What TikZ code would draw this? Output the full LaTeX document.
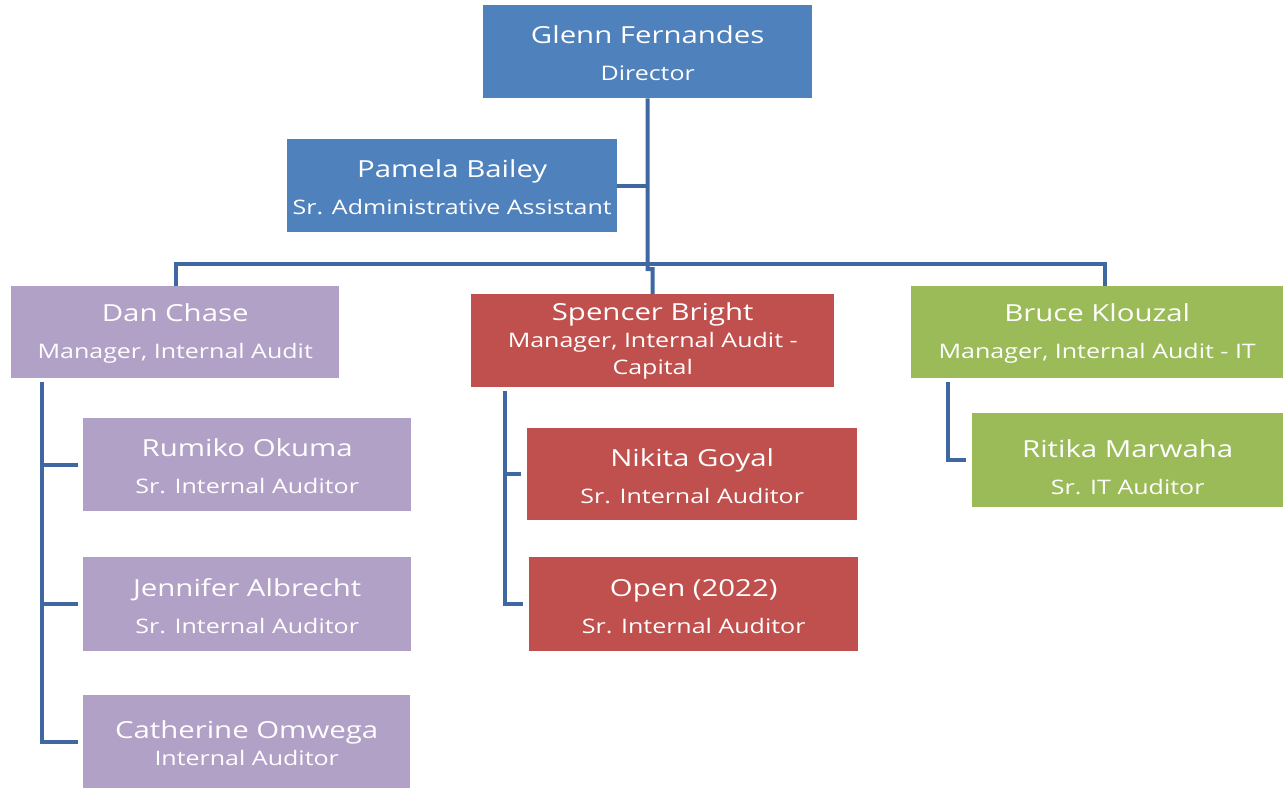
\documentclass[tikz,border=0pt]{standalone}
\usepackage{fontspec}
\setmainfont{Open Sans}[FakeStretch=1.25]
\definecolor{cblue}{HTML}{4F81BD}
\definecolor{cpurple}{HTML}{B2A1C7}
\definecolor{cred}{HTML}{C0504D}
\definecolor{cgreen}{HTML}{9BBB59}
\definecolor{linec}{HTML}{3F68A2}
\newcommand\pname[1]{{\fontsize{23.5}{37}\selectfont #1}}
\newcommand\ptitle[1]{{\fontsize{20}{37}\selectfont #1}}
\begin{document}
\begin{tikzpicture}[x=1pt,y=-1pt,
  box/.style={rectangle, inner sep=0pt, text=white, align=center, anchor=north west,
    minimum width=329pt, minimum height=93pt, font=\fontsize{20}{37}\selectfont},
  conn/.style={draw=linec, line width=4pt},
  tick/.style={conn, shorten >=5pt}]
\useasboundingbox (0,0) rectangle (1283,788);
% boxes
\node[box, fill=cblue] (glenn) at (483,5) {\rule{0pt}{21pt}\pname{Glenn Fernandes}\\\ptitle{Director}};
\node[box, fill=cblue, minimum width=330pt] (pamela) at (287,139) {\rule{0pt}{21pt}\pname{Pamela Bailey}\\\ptitle{Sr. Administrative Assistant}};
\node[box, fill=cpurple, minimum width=328pt, minimum height=92pt] (dan) at (11,286) {\rule{0pt}{21pt}\pname{Dan Chase}\\\ptitle{Manager, Internal Audit}};
\node[box, fill=cred, minimum width=363pt] (spencer) at (471,294) {\pname{Spencer Bright}\\[-10pt]\ptitle{Manager, Internal Audit -}\\[-10pt]\ptitle{Capital}};
\node[box, fill=cgreen, minimum width=372pt, minimum height=92pt] (bruce) at (911,286) {\rule{0pt}{21pt}\pname{Bruce Klouzal}\\\ptitle{Manager, Internal Audit - IT}};
\node[box, fill=cpurple, minimum width=328pt] (rumiko) at (83,418) {\rule{0pt}{21pt}\pname{Rumiko Okuma}\\\ptitle{Sr. Internal Auditor}};
\node[box, fill=cpurple, minimum width=328pt, minimum height=94pt] (jennifer) at (83,557) {\rule{0pt}{21pt}\pname{Jennifer Albrecht}\\\ptitle{Sr. Internal Auditor}};
\node[box, fill=cpurple, minimum width=327pt] (cath) at (83,695) {\rule{0pt}{21pt}\pname{Catherine Omwega}\\[-10pt]\ptitle{Internal Auditor}};
\node[box, fill=cred, minimum width=330pt, minimum height=92pt] (nikita) at (527,428) {\rule{0pt}{21pt}\pname{Nikita Goyal}\\\ptitle{Sr. Internal Auditor}};
\node[box, fill=cred, minimum width=329pt, minimum height=94pt] (open) at (529,557) {\rule{0pt}{21pt}\pname{Open (2022)}\\\ptitle{Sr. Internal Auditor}};
\node[box, fill=cgreen, minimum width=311pt, minimum height=94pt] (ritika) at (972,413) {\rule{0pt}{31pt}\pname{Ritika Marwaha}\\\ptitle{Sr. IT Auditor}};
% coordinates
\coordinate (bl) at (176,264);
\coordinate (br) at (1105,264);
\coordinate (jog) at (647.5,269);
\coordinate (dx) at (42,382);
\coordinate (sx) at (505,391);
\coordinate (kx) at (948,382);
% connectors
\draw[conn] (glenn.south) -- (jog) -- (jog -| spencer.north) -- (spencer.north);
\draw[conn] (pamela.east) -- (pamela.east -| glenn.south);
\draw[conn] (dan.north -| bl) -- (bl) -- (br) -- (bruce.north -| br);
\draw[conn] (dx) -- (dx |- cath.west) -- ([xshift=-5pt]cath.west);
\draw[tick] (dx |- rumiko.west) -- (rumiko.west);
\draw[tick] (dx |- jennifer.west) -- (jennifer.west);
\draw[conn] (sx) -- (sx |- open.west) -- ([xshift=-6pt]open.west);
\draw[conn, shorten >=6pt] (sx |- nikita.west) -- (nikita.west);
\draw[conn] (kx) -- (kx |- ritika.west) -- ([xshift=-6pt]ritika.west);
\end{tikzpicture}
\end{document}
